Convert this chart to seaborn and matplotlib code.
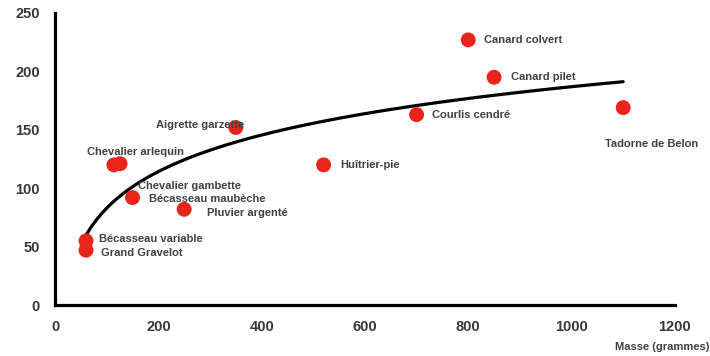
import matplotlib
matplotlib.use('Agg')
import matplotlib.pyplot as plt
import seaborn as sns
import pandas as pd

# --- data ---
especes = ['Canard colvert', 'Canard pilet', 'Courlis cendré', 'Tadorne de Belon',
           'Aigrette garzette', 'Chevalier arlequin', 'Chevalier gambette',
           'Huîtrier-pie', 'Bécasseau maubèche', 'Pluvier argenté',
           'Bécasseau variable', 'Grand Gravelot']
masse = [800, 850, 700, 1100, 350, 114, 126, 520, 150, 250, 60, 60]
valeur = [227, 195, 163, 169, 152, 120, 121, 120, 92, 82, 55, 47]
x_ticks = [0, 200, 400, 600, 800, 1000, 1200]
y_ticks = [0, 50, 100, 150, 200, 250]

# label placement (pixel offsets from each point, alignment)
label_pos = {
    'Canard colvert': (16, 0, 'left'),
    'Canard pilet': (17, 0, 'left'),
    'Courlis cendré': (15, 0, 'left'),
    'Tadorne de Belon': (28, -36, 'center'),
    'Aigrette garzette': (8, 2, 'right'),
    'Chevalier arlequin': (-27, 13, 'left'),
    'Chevalier gambette': (18, -22, 'left'),
    'Huîtrier-pie': (17, 0, 'left'),
    'Bécasseau maubèche': (16, -1, 'left'),
    'Pluvier argenté': (23, -4, 'left'),
    'Bécasseau variable': (13, 2, 'left'),
    'Grand Gravelot': (15, -3, 'left'),
}

df = pd.DataFrame({'espece': especes, 'masse': masse, 'valeur': valeur})

sns.set_theme(style="white")
plt.rcParams['font.family'] = ['Liberation Sans', 'DejaVu Sans']

fig = plt.figure(figsize=(7.1, 3.56), dpi=100)
ax = fig.add_axes([0.0775, 0.143, 0.873, 0.8205])

# logarithmic trend fitted on the points
sns.regplot(data=df, x='masse', y='valeur', logx=True, scatter=False, ci=None,
            color='black', line_kws={'linewidth': 2.3}, ax=ax)
sns.scatterplot(data=df, x='masse', y='valeur', s=115, color='#e8241c',
                edgecolor='none', ax=ax, zorder=3)

for _, row in df.iterrows():
    dx, dy, ha = label_pos[row['espece']]
    ax.annotate(row['espece'], (row['masse'], row['valeur']), xytext=(dx, dy),
                textcoords='offset pixels', ha=ha, va='center', fontsize=8,
                fontweight='bold', color='#404040', zorder=4)

ax.set_xlim(0, 1200)
ax.set_ylim(0, 250)
ax.set_xticks(x_ticks)
ax.set_yticks(y_ticks)
ax.set_xlabel('')
ax.set_ylabel('')
for s in ['top', 'right']:
    ax.spines[s].set_visible(False)
for s in ['left', 'bottom']:
    ax.spines[s].set_linewidth(2.3)
    ax.spines[s].set_color('black')
ax.tick_params(axis='both', direction='out', length=4, width=2, color='black',
               labelsize=10.5, labelcolor='#383838', pad=7)
for lab in ax.get_xticklabels() + ax.get_yticklabels():
    lab.set_fontweight('bold')

fig.text(0.999, 0.01, 'Masse (grammes)', ha='right', va='bottom', fontsize=8,
         fontweight='bold', color='#404040')

fig.savefig('out.png', dpi=100)
